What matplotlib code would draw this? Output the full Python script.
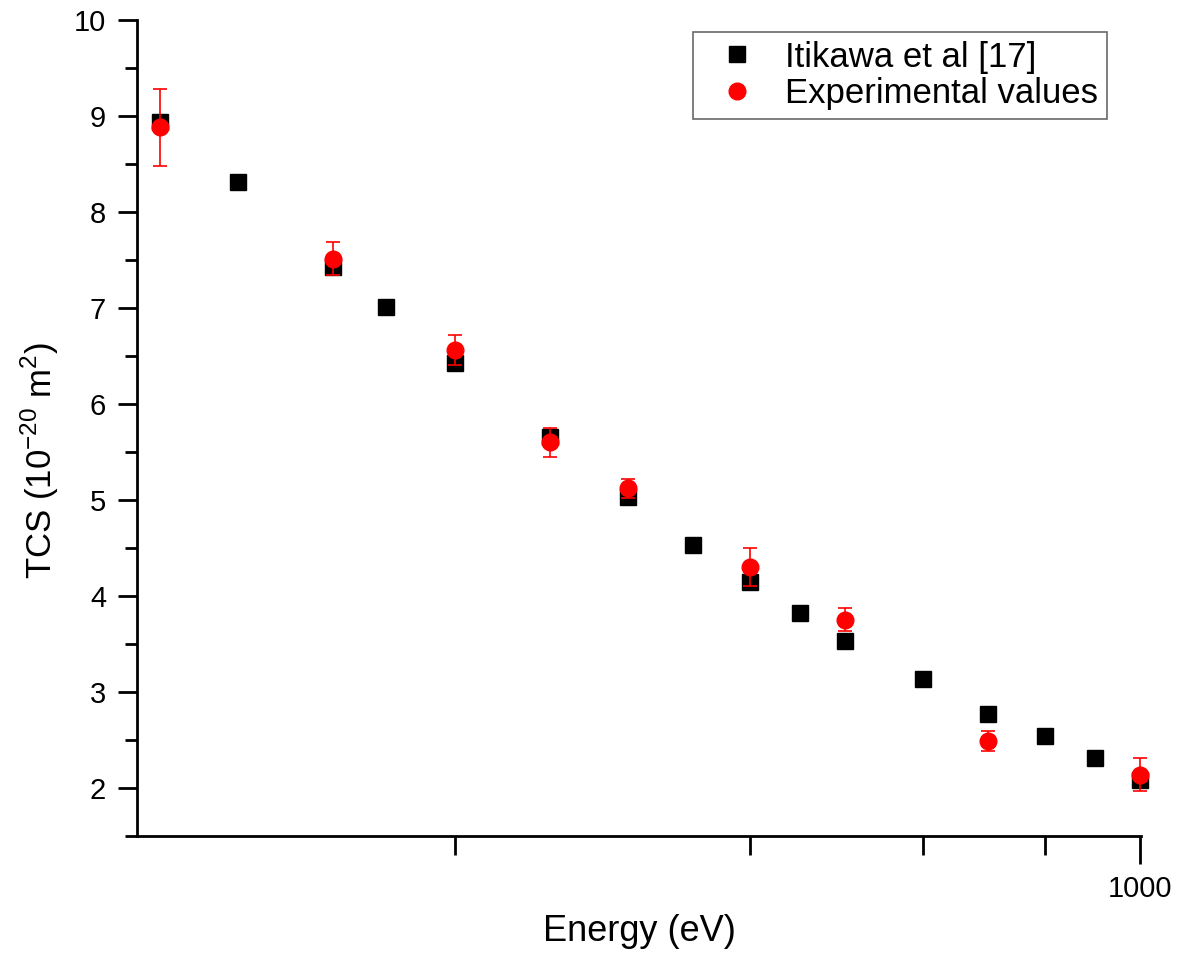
import matplotlib
matplotlib.use("Agg")
import matplotlib.pyplot as plt
from matplotlib.lines import Line2D
from matplotlib.ticker import FixedLocator, NullFormatter, FixedFormatter

plt.rcParams["font.family"] = ["Liberation Sans", "DejaVu Sans"]
plt.rcParams["mathtext.fontset"] = "custom"
plt.rcParams["mathtext.rm"] = "Liberation Sans"

# Itikawa et al [17]
itikawa_energy = [100, 120, 150, 170, 200, 250, 300, 350, 400, 450, 500, 600, 700, 800, 900, 1000]
itikawa_tcs = [8.93, 8.31, 7.42, 7.01, 6.42, 5.65, 5.03, 4.53, 4.14, 3.82, 3.53, 3.13, 2.77, 2.54, 2.31, 2.08]

# experimental values with error bars
exp_energy = [100, 150, 200, 250, 300, 400, 500, 700, 1000]
exp_tcs = [8.88, 7.51, 6.56, 5.60, 5.12, 4.30, 3.75, 2.49, 2.14]
exp_err = [0.40, 0.17, 0.16, 0.15, 0.10, 0.20, 0.12, 0.10, 0.17]

fig = plt.figure(figsize=(11.79, 9.56), dpi=100)
ax = fig.add_axes([0.116, 0.1255, 0.852, 0.854])

ax.plot(itikawa_energy, itikawa_tcs, "s", color="black", markersize=12,
        zorder=2, clip_on=False)
eb = ax.errorbar(exp_energy, exp_tcs, yerr=exp_err, fmt="o", color="red",
                 markersize=12, ecolor="red", elinewidth=1.2, capsize=5, capthick=1.2,
                 zorder=3)
for artist in eb.lines[0:1] + tuple(eb.lines[1]) + tuple(eb.lines[2]):
    artist.set_clip_on(False)

ax.set_xscale("log")
ax.set_xlim(94.7, 1003)
ax.set_ylim(1.5, 10)

ax.xaxis.set_major_locator(FixedLocator([1000]))
ax.xaxis.set_major_formatter(FixedFormatter(["1000"]))
ax.xaxis.set_minor_locator(FixedLocator([200, 400, 600, 800]))
ax.xaxis.set_minor_formatter(NullFormatter())
ax.set_yticks(range(2, 11))
ax.yaxis.set_minor_locator(FixedLocator([x + 0.5 for x in range(1, 10)]))

ax.tick_params(axis="both", which="major", direction="out", length=14, width=2,
               labelsize=21, pad=8)
ax.tick_params(axis="both", which="minor", direction="out", length=9, width=2)
ax.tick_params(axis="x", which="major", length=20, pad=8)
ax.tick_params(axis="x", which="minor", length=14)

for side in ("top", "right"):
    ax.spines[side].set_visible(False)
for side in ("left", "bottom"):
    ax.spines[side].set_linewidth(2)

ax.set_xlabel("Energy (eV)", fontsize=26)
ax.xaxis.set_label_coords(0.5, -0.095)
ax.set_ylabel(r"TCS (10$^{\mathregular{-20}}$ m$^{\mathregular{2}}$)", fontsize=25)
ax.yaxis.set_label_coords(-0.075, 0.46)

handles = [
    Line2D([], [], ls="none", marker="s", color="black", markersize=12),
    Line2D([], [], ls="none", marker="o", color="red", markersize=12),
]
leg = ax.legend(handles, ["Itikawa et al [17]", "Experimental values"],
                loc="upper right", bbox_to_anchor=(0.966, 0.985), fontsize=25,
                frameon=True, fancybox=False, edgecolor="#444444",
                handletextpad=0.4, handlelength=2.0, borderpad=0.25, labelspacing=0.1,
                borderaxespad=0)
leg.get_frame().set_linewidth(1.2)

fig.savefig("out.png", dpi=100)
